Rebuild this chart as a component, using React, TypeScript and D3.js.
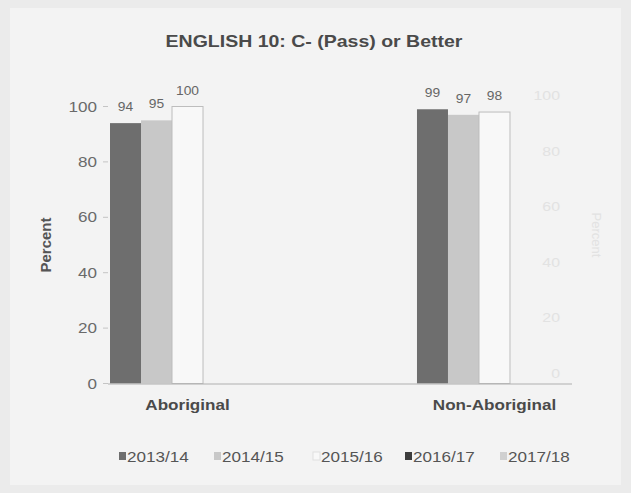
import React from "react";
import * as d3 from "d3";

const categories = ["Aboriginal", "Non-Aboriginal"];
const seriesNames = ["2013/14", "2014/15", "2015/16", "2016/17", "2017/18"];
const values2013 = [94, 99];
const values2014 = [95, 97];
const values2015 = [100, 98];
const values2016: (number | null)[] = [null, null];
const values2017: (number | null)[] = [null, null];
const yTicks = [0, 20, 40, 60, 80, 100];
const ghostTicks = [0, 20, 40, 60, 80, 100];
const title = "ENGLISH 10: C- (Pass) or Better";

const seriesValues = [values2013, values2014, values2015, values2016, values2017];
const fills = ["#6e6e6e", "#c8c8c8", "#f8f8f8", "#3c3c3c", "#d0d0d0"];
const strokes = ["none", "none", "#bdbdbd", "none", "none"];

const W = 631;
const H = 493;
const FONT = "'Liberation Sans', Arial, sans-serif";
const SX = 1.22;

function SText(props: {
  x: number;
  y: number;
  sx?: number;
  anchor?: string;
  size: number;
  bold?: boolean;
  fill: string;
  children: React.ReactNode;
}) {
  const sx = props.sx ?? SX;
  return (
    <text
      transform={`translate(${props.x},${props.y}) scale(${sx},1)`}
      textAnchor={props.anchor ?? "start"}
      fontSize={props.size}
      fontWeight={props.bold ? "bold" : "normal"}
      fill={props.fill}
    >
      {props.children}
    </text>
  );
}

export default function App() {
  const x0 = d3.scaleBand<string>().domain(categories).range([110, 572]).paddingInner(0.495).paddingOuter(0).align(0);
  const x1 = d3.scaleBand<string>().domain(seriesNames).range([0, x0.bandwidth()]).padding(0);
  const y = d3.scaleLinear().domain([0, 100]).range([383.5, 106.5]);
  const yGhost = d3.scaleLinear().domain([0, 100]).range([373, 95]);

  const legendX = [119, 214, 313, 405, 500];

  return (
    <svg width={W} height={H} style={{ position: "absolute", left: 0, top: 0 }} fontFamily={FONT}>
      <rect x={0} y={0} width={W} height={H} fill="#ebebeb" />
      <rect x={10} y={8} width={W - 20} height={H - 16} fill="#f3f3f3" />
      {/* faint scan ghost */}
      {ghostTicks.map((t) => (
        <SText key={t} x={560} y={yGhost(t) + 5} anchor="end" size={13} fill="#e2e2e2">
          {t}
        </SText>
      ))}
      <text transform={`translate(592,235) rotate(90)`} textAnchor="middle" fontSize={13} fill="#e2e2e2">
        Percent
      </text>

      <SText x={314} y={47} anchor="middle" size={16} bold fill="#4a4a4a">
        {title}
      </SText>
      {/* y axis ticks */}
      {yTicks.map((t) => (
        <g key={t}>
          <line x1={103} x2={108} y1={y(t)} y2={y(t)} stroke="#c4c4c4" />
          <SText x={97} y={y(t) + 5} anchor="end" size={14} fill="#6a6a6a">
            {t}
          </SText>
        </g>
      ))}
      <text
        transform={`translate(${51},${245}) rotate(-90)`}
        textAnchor="middle"
        fontSize={15}
        fontWeight="bold"
        fill="#555"
      >
        Percent
      </text>
      {/* bars */}
      {categories.map((c, ci) => (
        <g key={c} transform={`translate(${x0(c)},0)`}>
          {seriesNames.map((s, si) => {
            const v = seriesValues[si][ci];
            if (v == null) return null;
            const bx = x1(s) as number;
            return (
              <g key={s}>
                <rect
                  x={bx}
                  y={y(v)}
                  width={x1.bandwidth()}
                  height={y(0) - y(v)}
                  fill={fills[si]}
                  stroke={strokes[si]}
                  strokeWidth={1}
                />
                <SText x={bx + x1.bandwidth() / 2} y={y(v) - 12} anchor="middle" size={12} sx={1.15} fill="#666">
                  {v}
                </SText>
              </g>
            );
          })}
        </g>
      ))}
      {/* x axis */}
      <line x1={108} x2={572} y1={384} y2={384} stroke="#b0b0b0" strokeWidth={1.2} />
      {categories.map((c) => (
        <SText
          key={c}
          x={(x0(c) as number) + x0.bandwidth() / 2}
          y={410}
          anchor="middle"
          size={14}
          bold
          fill="#4a4a4a"
        >
          {c}
        </SText>
      ))}
      {/* legend */}
      {seriesNames.map((s, si) => (
        <g key={s}>
          <rect
            x={legendX[si]}
            y={452}
            width={7}
            height={8}
            fill={fills[si]}
            stroke={si === 2 ? "#e0e0e0" : "none"}
          />
          <SText x={legendX[si] + 8} y={461.5} size={14} fill="#555">
            {s}
          </SText>
        </g>
      ))}
    </svg>
  );
}
